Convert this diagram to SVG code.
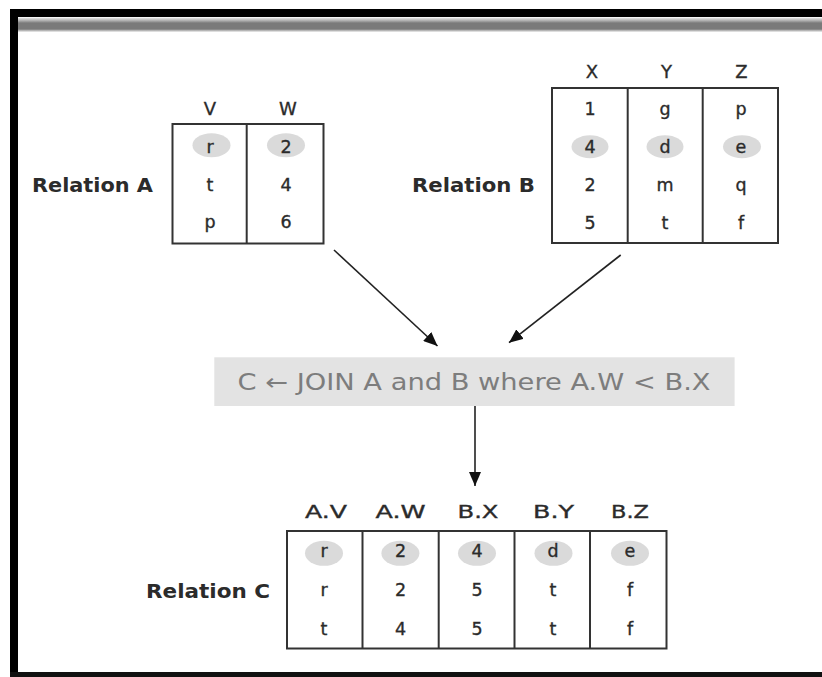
<svg xmlns="http://www.w3.org/2000/svg" width="822" height="677" viewBox="0 0 822 677">
<style>
.lbl{font-family:"DejaVu Sans","Liberation Sans",sans-serif;font-weight:bold;font-size:19.5px;fill:#2b2b2b}
.hdr{font-family:"DejaVu Sans","Liberation Sans",sans-serif;font-size:18px;fill:#2b2b2b;stroke:#2b2b2b;stroke-width:0.35;text-anchor:middle}
.hdrc{font-family:"DejaVu Sans","Liberation Sans",sans-serif;font-size:17.5px;fill:#2b2b2b;stroke:#2b2b2b;stroke-width:0.35;text-anchor:middle}
.val{font-family:"DejaVu Sans","Liberation Sans",sans-serif;font-size:17.5px;fill:#2b2b2b;stroke:#2b2b2b;stroke-width:0.35;text-anchor:middle}
.tbl{fill:none;stroke:#333;stroke-width:2}
.div{stroke:#333;stroke-width:2}
.hl{fill:#dadada}
.conn{stroke:#222;stroke-width:1.6;fill:none}
.op{font-family:"DejaVu Sans","Liberation Sans",sans-serif;font-size:23px;fill:#7d7d7d}
</style>
<defs>
<linearGradient id="band" x1="0" y1="0" x2="0" y2="1">
<stop offset="0" stop-color="#ececec"/>
<stop offset="0.2" stop-color="#b4b4b4"/>
<stop offset="0.38" stop-color="#7a7a7a"/>
<stop offset="0.8" stop-color="#7a7a7a"/>
<stop offset="0.9" stop-color="#b8b8b8"/>
<stop offset="1" stop-color="#f0f0f0"/>
</linearGradient>
<marker id="ah" markerUnits="userSpaceOnUse" markerWidth="14" markerHeight="12" refX="14" refY="6" orient="auto">
<path d="M0,0 L14,6 L0,12 z" fill="#111"/>
</marker>
</defs>
<rect width="822" height="677" fill="#fff"/>
<g id="frame">
<rect x="10" y="9" width="812" height="8" fill="#000"/>
<rect x="10" y="9" width="8" height="668" fill="#000"/>
<rect x="10" y="672" width="812" height="5" fill="#111"/>
<rect x="18" y="17.5" width="804" height="14.5" fill="url(#band)"/>
</g>
<g id="relationA">
<text class="lbl" x="32" y="191.7" textLength="121" lengthAdjust="spacingAndGlyphs">Relation A</text>
<text class="hdr" x="210" y="115">V</text>
<text class="hdr" x="288" y="115">W</text>
<ellipse class="hl" cx="211.5" cy="145.3" rx="19" ry="12"/>
<ellipse class="hl" cx="286" cy="145.3" rx="19" ry="12"/>
<rect class="tbl" x="172.5" y="124" width="151" height="119.5"/>
<line class="div" x1="246.7" y1="124" x2="246.7" y2="243.5"/>
<text class="val" x="210" y="152.7">r</text>
<text class="val" x="286" y="152.7">2</text>
<text class="val" x="210" y="190.7">t</text>
<text class="val" x="286" y="190.7">4</text>
<text class="val" x="210" y="228">p</text>
<text class="val" x="286" y="228">6</text>
</g>
<g id="relationB">
<text class="lbl" x="412" y="191.7" textLength="123" lengthAdjust="spacingAndGlyphs">Relation B</text>
<text class="hdr" x="592" y="78.3">X</text>
<text class="hdr" x="666.5" y="78.3">Y</text>
<text class="hdr" x="741.5" y="78.3">Z</text>
<ellipse class="hl" cx="590" cy="146.7" rx="18.5" ry="11.5"/>
<ellipse class="hl" cx="665" cy="146.7" rx="18.5" ry="11.5"/>
<ellipse class="hl" cx="742" cy="146.7" rx="19" ry="11.5"/>
<rect class="tbl" x="552" y="88" width="226" height="155"/>
<line class="div" x1="627.7" y1="88" x2="627.7" y2="243"/>
<line class="div" x1="702.7" y1="88" x2="702.7" y2="243"/>
<text class="val" x="590" y="115">1</text>
<text class="val" x="665" y="115">g</text>
<text class="val" x="741" y="115">p</text>
<text class="val" x="590" y="152.7">4</text>
<text class="val" x="665" y="152.7">d</text>
<text class="val" x="741" y="152.7">e</text>
<text class="val" x="590" y="191">2</text>
<text class="val" x="665" y="191">m</text>
<text class="val" x="741" y="191">q</text>
<text class="val" x="590" y="228.5">5</text>
<text class="val" x="665" y="228.5">t</text>
<text class="val" x="741" y="228.5">f</text>
</g>
<g id="joinOperation">
<rect x="214.3" y="357.3" width="520.3" height="48.7" fill="#e3e3e3"/>
<text class="op" x="237.5" y="390" textLength="473" lengthAdjust="spacingAndGlyphs">C ← JOIN A and B where A.W &lt; B.X</text>
</g>
<g id="relationC">
<text class="lbl" x="146" y="598" textLength="124" lengthAdjust="spacingAndGlyphs">Relation C</text>
<text class="hdrc" x="326" y="518" textLength="42" lengthAdjust="spacingAndGlyphs">A.V</text>
<text class="hdrc" x="400.5" y="518" textLength="50" lengthAdjust="spacingAndGlyphs">A.W</text>
<text class="hdrc" x="478" y="518" textLength="41" lengthAdjust="spacingAndGlyphs">B.X</text>
<text class="hdrc" x="553.5" y="518" textLength="41" lengthAdjust="spacingAndGlyphs">B.Y</text>
<text class="hdrc" x="630" y="518" textLength="38" lengthAdjust="spacingAndGlyphs">B.Z</text>
<ellipse class="hl" cx="324" cy="553.3" rx="19" ry="12.5"/>
<ellipse class="hl" cx="400.4" cy="553.3" rx="19" ry="12.5"/>
<ellipse class="hl" cx="477" cy="553.3" rx="19" ry="12.5"/>
<ellipse class="hl" cx="553.5" cy="553.3" rx="19" ry="12.5"/>
<ellipse class="hl" cx="630" cy="553.3" rx="19" ry="12.5"/>
<rect class="tbl" x="287" y="531" width="379.5" height="117.5"/>
<line class="div" x1="362.5" y1="531" x2="362.5" y2="648.5"/>
<line class="div" x1="438.7" y1="531" x2="438.7" y2="648.5"/>
<line class="div" x1="514.5" y1="531" x2="514.5" y2="648.5"/>
<line class="div" x1="590" y1="531" x2="590" y2="648.5"/>
<text class="val" x="324" y="557">r</text>
<text class="val" x="400.5" y="557">2</text>
<text class="val" x="477" y="557">4</text>
<text class="val" x="553" y="557">d</text>
<text class="val" x="630" y="557">e</text>
<text class="val" x="324" y="596">r</text>
<text class="val" x="400.5" y="596">2</text>
<text class="val" x="477" y="596">5</text>
<text class="val" x="553" y="596">t</text>
<text class="val" x="630" y="596">f</text>
<text class="val" x="324" y="635">t</text>
<text class="val" x="400.5" y="635">4</text>
<text class="val" x="477" y="635">5</text>
<text class="val" x="553" y="635">t</text>
<text class="val" x="630" y="635">f</text>
</g>
<g id="connectors">
<line class="conn" x1="334" y1="250" x2="437.5" y2="346" marker-end="url(#ah)"/>
<line class="conn" x1="620.7" y1="255" x2="509" y2="342.7" marker-end="url(#ah)"/>
<line class="conn" x1="475" y1="406" x2="475" y2="486" marker-end="url(#ah)"/>
</g>
</svg>
